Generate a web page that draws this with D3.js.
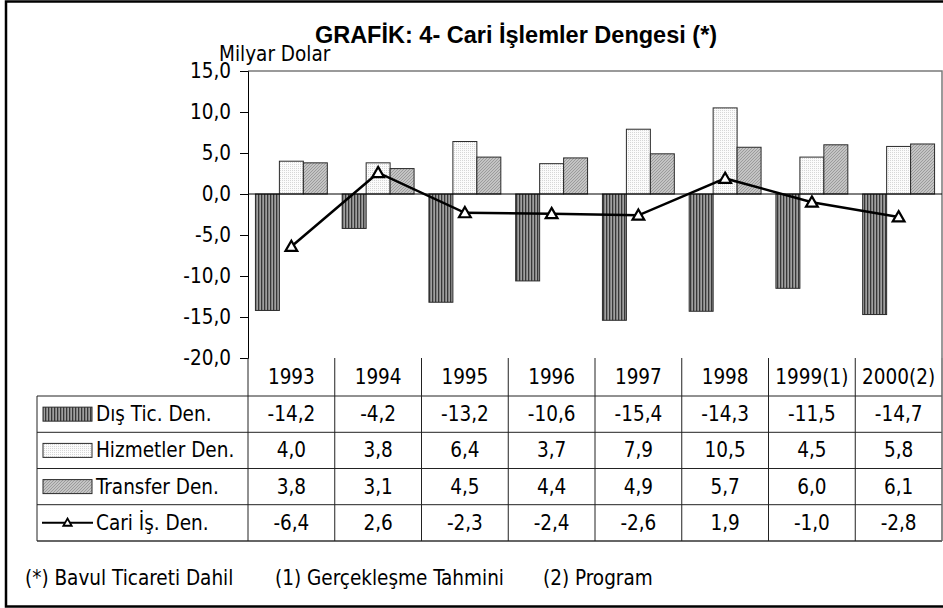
<!DOCTYPE html>
<html>
<head>
<meta charset="utf-8">
<script src="https://cdn.jsdelivr.net/npm/d3@7"></script>
<style>
  body { margin: 0; background: #fff; }
  text { font-family: 'DejaVu Sans Condensed', 'DejaVu Sans', sans-serif; font-stretch: condensed; fill: #000; }
  .title { font-family: 'Liberation Sans', Arial, sans-serif; font-stretch: normal; font-weight: bold; }
</style>
</head>
<body>
<svg id="chart" width="943" height="608"></svg>
<script>
var categories = ['1993', '1994', '1995', '1996', '1997', '1998', '1999(1)', '2000(2)'];
var disTic = [-14.2, -4.2, -13.2, -10.6, -15.4, -14.3, -11.5, -14.7];
var hizmetler = [4.0, 3.8, 6.4, 3.7, 7.9, 10.5, 4.5, 5.8];
var transfer = [3.8, 3.1, 4.5, 4.4, 4.9, 5.7, 6.0, 6.1];
var cari = [-6.4, 2.6, -2.3, -2.4, -2.6, 1.9, -1.0, -2.8];
var seriesNames = ['Dış Tic. Den.', 'Hizmetler Den.', 'Transfer Den.', 'Cari İş. Den.'];
var yTicks = [15, 10, 5, 0, -5, -10, -15, -20];
var footnotes = ['(*) Bavul Ticareti Dahil', '(1) Gerçekleşme Tahmini', '(2) Program'];

var svg = d3.select('#chart');
var fmt = function(v) { return v.toFixed(1).replace('.', ','); };
var fs = '20.5px';

// patterns for the bars
var defs = svg.append('defs');
var p1 = defs.append('pattern').attr('id', 'pDis').attr('patternUnits', 'userSpaceOnUse')
  .attr('width', 3).attr('height', 3);
p1.append('rect').attr('width', 3).attr('height', 3).attr('fill', '#a0a0a0');
p1.append('rect').attr('width', 1.3).attr('height', 3).attr('fill', '#383838');

var p2 = defs.append('pattern').attr('id', 'pHiz').attr('patternUnits', 'userSpaceOnUse')
  .attr('width', 2).attr('height', 2);
p2.append('rect').attr('width', 2).attr('height', 2).attr('fill', '#fbfbfb');
p2.append('rect').attr('width', 1).attr('height', 1).attr('fill', '#d6d6d6');

var p3 = defs.append('pattern').attr('id', 'pTra').attr('patternUnits', 'userSpaceOnUse')
  .attr('width', 3).attr('height', 3);
p3.append('rect').attr('width', 3).attr('height', 3).attr('fill', '#c4c4c4');
p3.append('path').attr('d', 'M0,3 L3,0').attr('stroke', '#909090').attr('stroke-width', 0.8);

var fills = ['url(#pDis)', 'url(#pHiz)', 'url(#pTra)'];
var barSeries = [disTic, hizmetler, transfer];

// outer frame
svg.append('rect').attr('x', 6).attr('y', 1.5).attr('width', 940).attr('height', 605)
  .attr('fill', 'none').attr('stroke', '#000').attr('stroke-width', 2.5);

var pLeft = 248, pRight = 942, pTop = 71, pBottom = 358;

var x0 = d3.scaleBand().domain(categories).range([pLeft, pRight]);
var x1 = d3.scaleBand().domain([0, 1, 2]).range([0, x0.bandwidth()]).paddingOuter(0.31);
var y = d3.scaleLinear().domain([-20, 15]).range([pBottom, pTop]);

// title
svg.append('text').attr('class', 'title').attr('x', 516).attr('y', 43)
  .attr('text-anchor', 'middle').style('font-size', '23.5px')
  .text('GRAFİK: 4- Cari İşlemler Dengesi (*)');
svg.append('text').attr('x', 219).attr('y', 61).style('font-size', fs).text('Milyar Dolar');

// plot border (top and right)
svg.append('path').attr('d', 'M' + pLeft + ',' + pTop + 'H' + pRight + 'V' + pBottom)
  .attr('fill', 'none').attr('stroke', '#7a7a7a').attr('stroke-width', 1.5);

// y axis
var yAxis = d3.axisLeft(y).tickValues(yTicks).tickSize(8).tickPadding(9).tickFormat(fmt);
var ya = svg.append('g').attr('transform', 'translate(' + pLeft + ',0)').call(yAxis);
ya.attr('font-family', null).attr('font-size', null);
ya.select('.domain').attr('stroke', '#000');
ya.selectAll('.tick line').attr('stroke', '#000');
ya.selectAll('.tick text').style('font-size', fs);

// bars
barSeries.forEach(function(vals, s) {
  svg.append('g').selectAll('rect').data(vals).enter().append('rect')
    .attr('x', function(d, i) { return x0(categories[i]) + x1(s); })
    .attr('width', x1.bandwidth())
    .attr('y', function(d) { return y(Math.max(0, d)); })
    .attr('height', function(d) { return Math.abs(y(d) - y(0)); })
    .attr('fill', fills[s]).attr('stroke', '#2a2a2a').attr('stroke-width', 1);
});

// zero line
svg.append('line').attr('x1', pLeft).attr('x2', pRight).attr('y1', y(0)).attr('y2', y(0))
  .attr('stroke', '#000').attr('stroke-width', 1);

// cari line
var cx = function(d, i) { return x0(categories[i]) + x0.bandwidth() / 2; };
var line = d3.line().x(cx).y(function(d) { return y(d); });
svg.append('path').datum(cari).attr('d', line).attr('fill', 'none')
  .attr('stroke', '#000').attr('stroke-width', 2.5);
var tri = d3.symbol().type(d3.symbolTriangle).size(60);
svg.append('g').selectAll('path').data(cari).enter().append('path')
  .attr('d', tri)
  .attr('transform', function(d, i) { return 'translate(' + cx(d, i) + ',' + (y(d) + 1) + ')'; })
  .attr('fill', '#fff').attr('stroke', '#000').attr('stroke-width', 2.2);

// data table
var rowTop = [358, 396, 432.3, 468.5, 504.7, 541];
var tbl = svg.append('g').attr('stroke', '#222').attr('stroke-width', 1);
rowTop.slice(1).forEach(function(ry, k) {
  tbl.append('line').attr('x1', 37).attr('x2', pRight).attr('y1', ry).attr('y2', ry)
    .attr('stroke', k == 4 ? '#666' : '#222').attr('stroke-width', k == 4 ? 2 : 1);
});
categories.forEach(function(c) {
  tbl.append('line').attr('x1', x0(c)).attr('x2', x0(c)).attr('y1', 358).attr('y2', 541);
});
tbl.append('line').attr('x1', pRight).attr('x2', pRight).attr('y1', 358).attr('y2', 541)
  .attr('stroke', '#666').attr('stroke-width', 1.5);
tbl.append('line').attr('x1', 37).attr('x2', 37).attr('y1', 396).attr('y2', 541);

// header
svg.append('g').selectAll('text').data(categories).enter().append('text')
  .attr('x', function(d) { return x0(d) + x0.bandwidth() / 2; })
  .attr('y', (rowTop[0] + rowTop[1]) / 2 + 7)
  .attr('text-anchor', 'middle').style('font-size', fs)
  .text(function(d) { return d; });

var allSeries = [disTic, hizmetler, transfer, cari];
allSeries.forEach(function(vals, s) {
  var cy = (rowTop[s + 1] + rowTop[s + 2]) / 2;
  svg.append('g').selectAll('text').data(vals).enter().append('text')
    .attr('x', function(d, i) { return x0(categories[i]) + x0.bandwidth() / 2; })
    .attr('y', cy + 7).attr('text-anchor', 'middle').style('font-size', fs)
    .text(fmt);
  // legend key
  if (s < 3) {
    svg.append('rect').attr('x', 43).attr('y', cy - 7).attr('width', 49).attr('height', 14)
      .attr('fill', fills[s]).attr('stroke', '#2a2a2a').attr('stroke-width', 1);
  } else {
    svg.append('line').attr('x1', 42).attr('x2', 93).attr('y1', cy).attr('y2', cy)
      .attr('stroke', '#000').attr('stroke-width', 2);
    svg.append('path').attr('d', d3.symbol().type(d3.symbolTriangle).size(30))
      .attr('transform', 'translate(67.5,' + (cy + 0.5) + ')')
      .attr('fill', '#fff').attr('stroke', '#000').attr('stroke-width', 1.8);
  }
  svg.append('text').attr('x', 96).attr('y', cy + 7).style('font-size', fs).text(seriesNames[s]);
});

// footnotes
var fx = [25, 275, 543];
svg.append('g').selectAll('text').data(footnotes).enter().append('text')
  .attr('x', function(d, i) { return fx[i]; }).attr('y', 585)
  .style('font-size', fs).text(function(d) { return d; });
</script>
</body>
</html>
